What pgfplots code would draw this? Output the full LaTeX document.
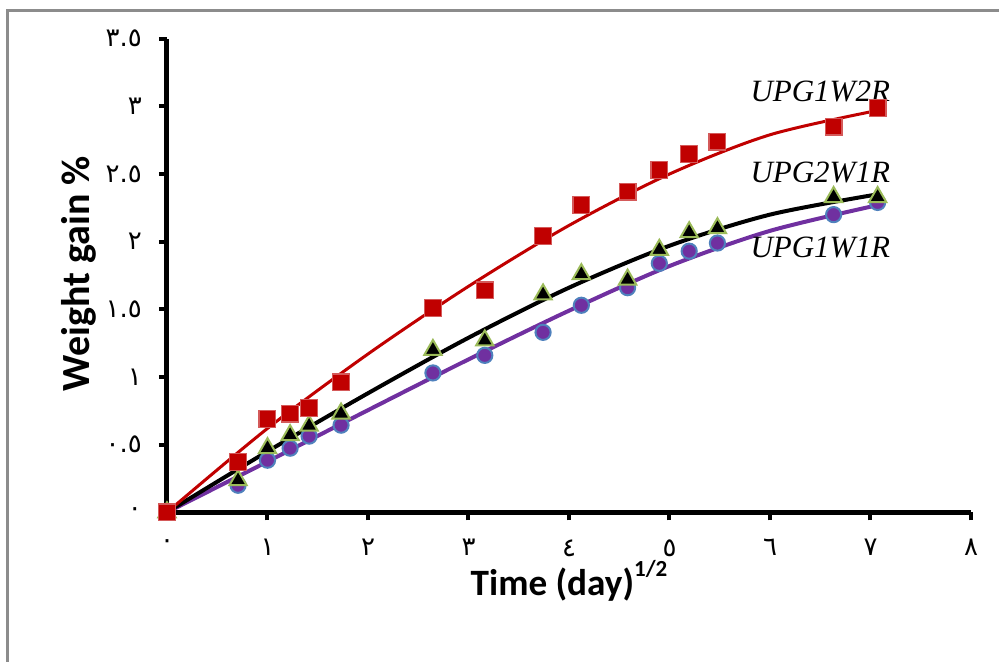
\documentclass[border=0pt]{standalone}
\usepackage{fontspec}
\usepackage{pgfplots}
\pgfplotsset{compat=1.18}
\newfontfamily\carlito{Carlito}
\newfontfamily\timesf{Liberation Serif}
\newfontfamily\arabicfont{DejaVu Sans}
\definecolor{ured}{HTML}{C00000}
\definecolor{uredl}{HTML}{D45A5A}
\definecolor{upurple}{HTML}{7030A0}
\definecolor{ublue}{HTML}{4F81BD}
\definecolor{ugreen}{HTML}{9BBB59}
\definecolor{framegray}{HTML}{8C8C8C}

\begin{document}
\begin{tikzpicture}
\useasboundingbox (-83.5pt,-74.35pt) rectangle (416pt,256.15pt);
\draw[framegray, line width=1.5pt] (-79.5pt,-80pt) -- (-79.5pt,251.15pt) -- (420pt,251.15pt);
\begin{axis}[scale only axis, width=402pt, height=236.8pt,
  xmin=0, xmax=8, ymin=0, ymax=3.5, clip=false,
  axis x line*=bottom, axis y line*=left,
  axis line style={line width=2.5pt, black},
  tick style={line width=2pt, black}, major tick length=4pt, tick align=outside,
  xtick={0,1,...,8}, xticklabels={٠,١,٢,٣,٤,٥,٦,٧,٨},
  ytick={0,0.5,1,1.5,2,2.5,3,3.5}, yticklabels={٠,٠.٥,١,١.٥,٢,٢.٥,٣,٣.٥},
  ticklabel style={font=\arabicfont\fontsize{13}{15}\selectfont},
  xticklabel style={yshift=-6pt},
  yticklabel style={xshift=-5pt},
  xlabel={Time (day)\raisebox{0.5em}{\fontsize{11.5}{13}\selectfont 1/2}},
  ylabel={Weight gain \%},
  xlabel style={font=\carlito\bfseries\fontsize{18.6}{22}\selectfont,
    at={(axis description cs:0.5,-0.145)}, anchor=center},
  ylabel style={font=\carlito\bfseries\fontsize{20}{24}\selectfont,
    at={(axis description cs:-0.110,0.504)}, anchor=center},
]
% measured points
\addplot[only marks, mark=*, mark size=3.8pt, mark options={fill=upurple, draw=ublue, line width=1pt}]
  coordinates {(0,0) (0.707,0.20) (1,0.385) (1.225,0.474) (1.414,0.563) (1.732,0.644)
   (2.646,1.03) (3.162,1.16) (3.742,1.33) (4.123,1.53) (4.583,1.66) (4.899,1.84)
   (5.196,1.93) (5.477,1.99) (6.633,2.20) (7.071,2.29)};
\addplot[only marks, mark=triangle*, mark size=5pt, mark options={fill=black, draw=ugreen, line width=1pt}]
  coordinates {(0,0) (0.707,0.237) (1,0.474) (1.225,0.57) (1.414,0.64) (1.732,0.73)
   (2.646,1.20) (3.162,1.27) (3.742,1.61) (4.123,1.76) (4.583,1.72) (4.899,1.94)
   (5.196,2.07) (5.477,2.10) (6.633,2.33) (7.071,2.33)};
\addplot[only marks, mark=square*, mark size=4.2pt, mark options={fill=ured, draw=uredl, line width=0.6pt}]
  coordinates {(0,0) (0.707,0.37) (1,0.69) (1.225,0.73) (1.414,0.77) (1.732,0.96)
   (2.646,1.51) (3.162,1.64) (3.742,2.04) (4.123,2.27) (4.583,2.37) (4.899,2.53)
   (5.196,2.65) (5.477,2.74) (6.633,2.85) (7.071,2.99)};
% trend lines
\addplot[upurple, line width=2pt, smooth, no marks]
  coordinates {(0,0) (1,0.375) (2,0.755) (3,1.13) (4,1.49) (5,1.82) (6,2.08) (7.071,2.27)};
\addplot[black, line width=2pt, smooth, no marks]
  coordinates {(0,0) (1,0.45) (2,0.88) (3,1.29) (4,1.66) (5,1.97) (6,2.20) (7.071,2.35)};
\addplot[ured, line width=1.5pt, smooth, no marks]
  coordinates {(0,0) (1,0.62) (2,1.17) (3,1.67) (4,2.12) (5,2.50) (6,2.79) (7.071,2.97)};
\node[font=\timesf\itshape\fontsize{15.5}{18}\selectfont] at (axis cs:6.5,3.11) {UPG1W2R};
\node[font=\timesf\itshape\fontsize{15.5}{18}\selectfont] at (axis cs:6.5,2.51) {UPG2W1R};
\node[font=\timesf\itshape\fontsize{15.5}{18}\selectfont] at (axis cs:6.5,1.96) {UPG1W1R};
\end{axis}
\end{tikzpicture}
\end{document}
